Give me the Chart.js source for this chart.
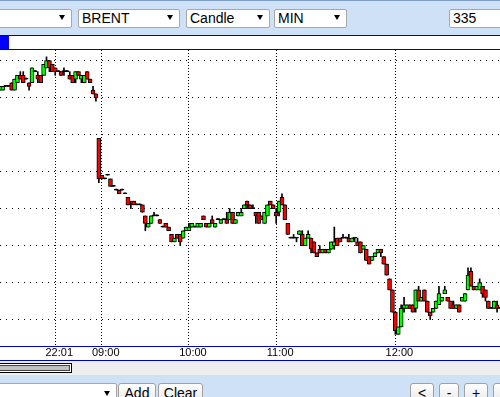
<!DOCTYPE html>
<html>
<head>
<meta charset="utf-8">
<title>BRENT Candle MIN</title>
<script src="https://cdn.jsdelivr.net/npm/chart.js@4.4.1/dist/chart.umd.min.js"></script>
<style>
html, body { margin: 0; padding: 0; }
body { width: 500px; height: 397px; overflow: hidden; position: relative; background: #fff;
       font-family: "Liberation Sans", Arial, sans-serif; color: #000; }
.strip { position: absolute; left: 0; width: 500px; }
#topbar { top: 0; height: 35px; background: #cfe1f7; border-top: 1px solid #7d9ec9; box-sizing: border-box; }
.box { position: absolute; top: 8px; height: 19px; box-sizing: border-box; background: #fff;
       border: 1px solid #a7a7a7; border-radius: 2px; font-size: 14px; line-height: 17px; padding-left: 3px; white-space: nowrap; }
.arrow { position: absolute; top: 5px; width: 0; height: 0; border-left: 3px solid transparent;
         border-right: 3px solid transparent; border-top: 5px solid #000; }
#progress { top: 35px; height: 15px; border-top: 1px solid #0000c8; border-bottom: 1px solid #0000c8; box-sizing: border-box; background: #fff; }
#progress div { position: absolute; left: 0; top: 0; width: 9px; height: 13px; background: #0000ff; }
#chart { position: absolute; left: 0; top: 50px; }
.blue { position: absolute; left: 0; width: 500px; height: 1px; background: #0000c8; }
#scroll { top: 361px; height: 14px; background: #eeeeee; }
#thumb { position: absolute; left: -3px; top: 2px; width: 75px; height: 10px; box-sizing: border-box;
         border: 1px solid #000; background: #c0c0c0; box-shadow: inset 0 0 0 1px #fff, inset 0 0 0 2px #444; }
#botbar { top: 375px; height: 22px; background: #cfe1f7; }
.btn { position: absolute; top: 8px; height: 22px; box-sizing: border-box; border: 1px solid #a0a0a0; border-radius: 3px;
       background: linear-gradient(#ffffff, #e6e6e6); font-size: 14px; line-height: 18px; text-align: center; }
</style>
</head>
<body>
<div id="topbar" class="strip">
  <div class="box" style="left:-5px;width:77px;"><span class="arrow" style="left:63px;"></span></div>
  <div class="box" style="left:78px;width:102px;">BRENT<span class="arrow" style="left:88px;"></span></div>
  <div class="box" style="left:186px;width:84px;">Candle<span class="arrow" style="left:70px;"></span></div>
  <div class="box" style="left:274px;width:73px;">MIN<span class="arrow" style="left:59px;"></span></div>
  <div class="box" style="left:449px;width:60px;">335</div>
</div>
<div id="progress" class="strip"><div></div></div>
<canvas id="chart" width="500" height="310"></canvas>
<div class="blue" style="top:346px;"></div>
<div class="blue" style="top:360px;"></div>
<div id="scroll" class="strip"><div id="thumb"></div></div>
<div id="botbar" class="strip">
  <div class="box" style="left:-5px;width:122px;top:8px;height:22px;"><span class="arrow" style="left:108px;top:7px;"></span></div>
  <div class="btn" style="left:118px;width:38px;">Add</div>
  <div class="btn" style="left:158px;width:45px;">Clear</div>
  <div class="btn" style="left:410px;width:24px;">&lt;</div>
  <div class="btn" style="left:439px;width:20px;">-</div>
  <div class="btn" style="left:464px;width:24px;">+</div>
  <div class="btn" style="left:493px;width:24px;"></div>
</div>
<script>
// candle data, one entry per bar (BRENT, minute bars)
const opens = [
  108.62,108.62,108.63,108.63,108.64,108.62,108.64,108.66,108.66,108.65,
  108.64,108.64,108.67,108.66,108.66,108.66,108.68,108.70,108.69,108.68,
  108.67,108.67,108.67,108.67,108.66,108.66,108.65,108.67,108.65,108.64,
  108.67,108.65,108.62,108.61,108.49,108.39,108.38,108.39,108.38,108.36,
  108.35,108.35,108.35,108.34,108.33,108.31,108.32,108.31,108.31,108.31,
  108.28,108.25,108.26,108.28,108.28,108.27,108.25,108.26,108.25,108.23,
  108.21,108.23,108.23,108.22,108.24,108.24,108.25,108.25,108.25,108.25,
  108.28,108.26,108.25,108.27,108.25,108.27,108.26,108.27,108.27,108.27,
  108.29,108.26,108.28,108.28,108.30,108.32,108.31,108.30,108.29,108.29,
  108.28,108.26,108.28,108.32,108.31,108.29,108.29,108.33,108.31,108.26,
  108.22,108.22,108.22,108.23,108.23,108.20,108.22,108.22,108.21,108.18,
  108.19,108.18,108.19,108.18,108.19,108.20,108.22,108.22,108.22,108.22,
  108.22,108.21,108.22,108.21,108.21,108.19,108.19,108.17,108.16,108.17,
  108.18,108.19,108.17,108.15,108.11,108.08,108.02,107.96,107.98,108.03,
  108.03,108.04,108.04,108.03,108.08,108.05,108.08,108.05,108.02,108.02,
  108.03,108.04,108.05,108.07,108.06,108.05,108.04,108.03,108.04,108.05,
  108.05,108.08,108.13,108.09,108.08,108.08,108.09,108.08,108.05,108.03,
  108.03,108.04,108.03
];
const highs = [
  108.63,108.63,108.63,108.63,108.64,108.65,108.66,108.67,108.67,108.65,
  108.64,108.68,108.67,108.67,108.66,108.69,108.71,108.70,108.69,108.68,
  108.67,108.67,108.68,108.67,108.67,108.66,108.67,108.67,108.66,108.66,
  108.67,108.65,108.63,108.61,108.49,108.39,108.38,108.39,108.38,108.36,
  108.35,108.35,108.35,108.34,108.33,108.32,108.32,108.31,108.31,108.31,
  108.28,108.26,108.28,108.29,108.28,108.27,108.25,108.26,108.25,108.23,
  108.22,108.23,108.23,108.24,108.25,108.26,108.26,108.25,108.26,108.26,
  108.28,108.26,108.26,108.28,108.26,108.27,108.27,108.27,108.29,108.30,
  108.29,108.27,108.29,108.30,108.31,108.32,108.31,108.31,108.29,108.29,
  108.28,108.29,108.31,108.32,108.31,108.30,108.32,108.34,108.31,108.26,
  108.22,108.23,108.22,108.24,108.24,108.22,108.24,108.22,108.21,108.18,
  108.20,108.19,108.19,108.19,108.21,108.25,108.22,108.22,108.23,108.22,
  108.23,108.22,108.22,108.22,108.21,108.20,108.19,108.17,108.17,108.18,
  108.19,108.19,108.17,108.15,108.11,108.08,108.02,107.98,108.04,108.06,
  108.04,108.04,108.04,108.08,108.09,108.06,108.08,108.05,108.02,108.03,
  108.05,108.09,108.06,108.09,108.06,108.05,108.05,108.04,108.04,108.06,
  108.07,108.14,108.14,108.09,108.09,108.11,108.09,108.08,108.05,108.03,
  108.05,108.05,108.03
];
const lows = [
  108.62,108.62,108.63,108.63,108.62,108.62,108.64,108.65,108.64,108.65,
  108.62,108.64,108.67,108.64,108.64,108.66,108.68,108.67,108.67,108.66,
  108.67,108.66,108.66,108.67,108.65,108.64,108.64,108.66,108.64,108.64,
  108.65,108.64,108.61,108.59,108.37,108.38,108.38,108.39,108.36,108.36,
  108.35,108.34,108.35,108.34,108.31,108.30,108.31,108.31,108.31,108.29,
  108.24,108.25,108.26,108.28,108.28,108.26,108.25,108.25,108.24,108.21,
  108.21,108.22,108.20,108.22,108.24,108.24,108.25,108.25,108.25,108.25,
  108.27,108.25,108.25,108.26,108.25,108.27,108.26,108.27,108.26,108.27,
  108.26,108.26,108.28,108.28,108.30,108.30,108.30,108.30,108.26,108.26,
  108.27,108.26,108.28,108.31,108.30,108.26,108.28,108.31,108.27,108.23,
  108.22,108.22,108.21,108.23,108.20,108.20,108.22,108.18,108.18,108.17,
  108.18,108.18,108.18,108.18,108.19,108.19,108.20,108.21,108.22,108.22,
  108.21,108.21,108.21,108.20,108.18,108.19,108.16,108.15,108.16,108.17,
  108.18,108.17,108.15,108.12,108.08,108.02,107.96,107.96,107.98,108.02,
  108.03,108.03,108.02,108.02,108.05,108.05,108.05,108.02,108.00,108.02,
  108.03,108.04,108.05,108.07,108.05,108.03,108.03,108.03,108.02,108.05,
  108.05,108.08,108.09,108.08,108.08,108.08,108.06,108.05,108.03,108.03,
  108.03,108.02,108.03
];
const closes = [
  108.63,108.63,108.63,108.63,108.62,108.65,108.66,108.65,108.64,108.65,
  108.63,108.68,108.67,108.65,108.64,108.69,108.70,108.68,108.67,108.67,
  108.67,108.66,108.67,108.67,108.65,108.64,108.67,108.66,108.66,108.66,
  108.65,108.64,108.61,108.60,108.38,108.38,108.38,108.39,108.36,108.36,
  108.35,108.34,108.35,108.34,108.31,108.31,108.31,108.31,108.31,108.29,
  108.26,108.26,108.28,108.28,108.28,108.26,108.25,108.25,108.24,108.21,
  108.22,108.22,108.21,108.24,108.25,108.25,108.26,108.25,108.26,108.26,
  108.27,108.25,108.26,108.26,108.26,108.27,108.27,108.27,108.26,108.29,
  108.26,108.27,108.29,108.29,108.31,108.31,108.30,108.30,108.28,108.26,
  108.27,108.29,108.31,108.31,108.30,108.28,108.32,108.31,108.27,108.23,
  108.22,108.22,108.22,108.24,108.20,108.22,108.23,108.19,108.18,108.17,
  108.18,108.19,108.18,108.19,108.21,108.21,108.20,108.21,108.22,108.22,
  108.21,108.22,108.22,108.20,108.18,108.20,108.16,108.15,108.17,108.18,
  108.19,108.18,108.15,108.12,108.08,108.02,107.97,107.98,108.03,108.04,
  108.04,108.03,108.02,108.08,108.05,108.06,108.05,108.02,108.01,108.03,
  108.05,108.07,108.06,108.08,108.05,108.03,108.03,108.04,108.02,108.06,
  108.07,108.12,108.09,108.08,108.09,108.10,108.07,108.06,108.03,108.03,
  108.05,108.03,108.03
];

// time axis: which bar carries a label, and the label text
const tickIndex = [19, 35, 65, 95, 136];
const tickLabel = ['22:01', '09:00', '10:00', '11:00', '12:00'];

// horizontal grid levels
const gridPrices = [108.0, 108.1, 108.2, 108.3, 108.4, 108.5, 108.6, 108.7];

const bars = opens.map((o, i) => i);

function candleColor(c) {
    const i = c.dataIndex;
    if (closes[i] > opens[i]) return '#00ff00';
    if (closes[i] < opens[i]) return '#ff0000';
    return '#000000';
}

Chart.defaults.font.family = '"Liberation Sans", Arial, sans-serif';

new Chart(document.getElementById('chart'), {
    type: 'bar',
    data: {
        labels: bars,
        datasets: [
            {
                label: 'wick',
                data: lows.map((l, i) => [l, highs[i]]),
                backgroundColor: '#000000',
                barThickness: 1,
                minBarLength: 1,
                grouped: false,
                order: 2
            },
            {
                label: 'body',
                data: opens.map((o, i) => [o, closes[i]]),
                backgroundColor: candleColor,
                borderColor: '#000000',
                borderWidth: 1,
                borderSkipped: false,
                barThickness: 4,
                minBarLength: 1,
                grouped: false,
                order: 1
            }
        ]
    },
    options: {
        responsive: false,
        animation: false,
        events: [],
        layout: { padding: 0 },
        plugins: { legend: { display: false }, tooltip: { enabled: false } },
        scales: {
            x: {
                offset: false,
                grid: { offset: false, color: '#000000', lineWidth: 1, drawTicks: false },
                border: { display: false, dash: [1, 2] },
                afterBuildTicks: function (scale) {
                    scale.ticks = tickIndex.map(v => ({ value: v }));
                },
                ticks: {
                    autoSkip: false,
                    maxRotation: 0,
                    padding: 1,
                    labelOffset: 4,
                    color: '#000000',
                    font: { size: 11, lineHeight: '12px' },
                    callback: function (value) {
                        return tickLabel[tickIndex.indexOf(value)];
                    }
                }
            },
            y: {
                min: 107.9285,
                max: 108.7285,
                grid: { color: '#000000', lineWidth: 1, drawTicks: false },
                border: { display: false, dash: [1, 5] },
                afterBuildTicks: function (scale) {
                    scale.ticks = gridPrices.map(v => ({ value: v }));
                },
                ticks: { display: false }
            }
        }
    }
});
</script>
</body>
</html>
